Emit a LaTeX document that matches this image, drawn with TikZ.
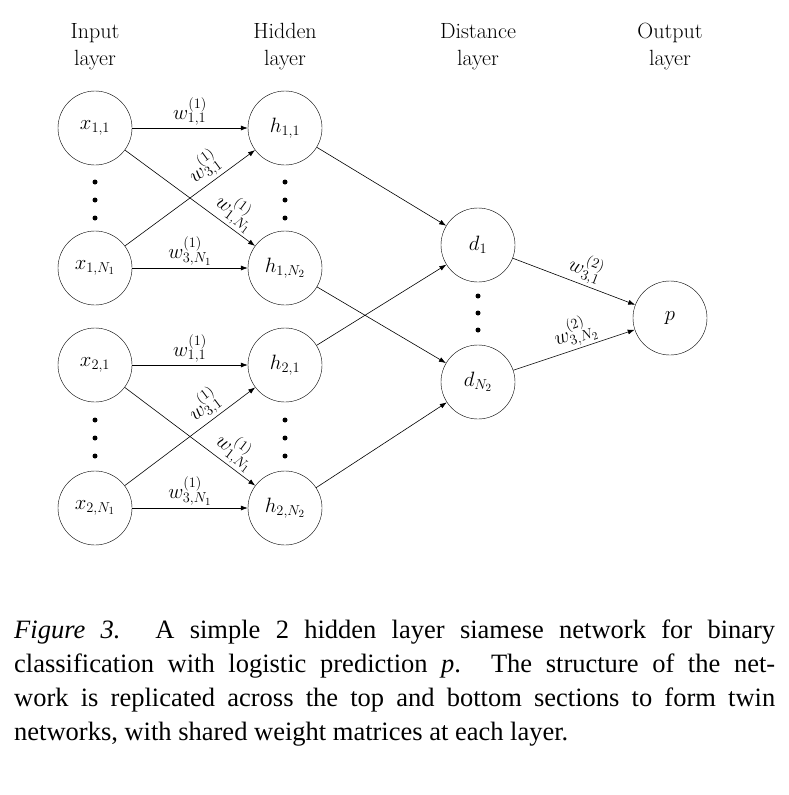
\documentclass[tikz,border=0pt]{standalone}
\usepackage{fontspec}
\newfontfamily\capfont{Liberation Serif}
\usetikzlibrary{arrows.meta}
\begin{document}
\begin{tikzpicture}[x=1pt,y=-1pt,
  neuron/.style={circle,draw,minimum size=74pt,inner sep=0pt,font=\fontsize{22}{26}\selectfont},
  conn/.style={draw,-{Latex[length=7pt,width=5pt]},line width=0.6pt},
  lab/.style={font=\fontsize{21}{24}\selectfont,inner sep=2pt},
  head/.style={align=center,font=\fontsize{22}{27}\selectfont},
  dot/.style={circle,fill,inner sep=0pt,minimum size=5pt}]
\useasboundingbox (0,0) rectangle (789,795);
\node[head] (hi) at (95,47) {Input\\layer};
\node[head] (hh) at (285,47) {Hidden\\layer};
\node[head] (hd) at (478,47) {Distance\\layer};
\node[head] (ho) at (670,47) {Output\\layer};
\node[neuron] (x11) at (95,128) {$x_{1,1}$};
\node[neuron] (x1n) at (95,268) {$x_{1,N_1}$};
\node[neuron] (x21) at (95,365) {$x_{2,1}$};
\node[neuron] (x2n) at (95,508) {$x_{2,N_1}$};
\node[neuron] (h11) at (285,128) {$h_{1,1}$};
\node[neuron] (h1n) at (285,268) {$h_{1,N_2}$};
\node[neuron] (h21) at (285,365) {$h_{2,1}$};
\node[neuron] (h2n) at (285,508) {$h_{2,N_2}$};
\node[neuron] (d1) at (478,245) {$d_1$};
\node[neuron] (dn) at (478,382) {$d_{N_2}$};
\node[neuron] (p) at (670,318) {$p$};
\foreach \x/\y [count=\i] in {95/182,95/200,95/218,285/182,285/200,285/218,95/420,95/438,95/456,285/420,285/438,285/456,478/296,478/313,478/330}
  \node[dot] (dt\i) at (\x,\y) {};
\foreach \a/\b/\c/\d in {x11/x1n/h11/h1n,x21/x2n/h21/h2n}{
  \path[conn] (\a) -- node[lab,above,pos=0.5] {$w^{(1)}_{1,1}$} (\c);
  \path[conn] (\b) -- node[lab,above,pos=0.5] {$w^{(1)}_{3,N_1}$} (\d);
  \path[conn] (\b) -- node[lab,above,sloped,pos=0.68] {$w^{(1)}_{3,1}$} (\c);
  \path[conn] (\a) -- node[lab,above,sloped,pos=0.78] {$w^{(1)}_{1,N_1}$} (\d);
}
\path[conn] (h11) -- (d1);
\path[conn] (h1n) -- (dn);
\path[conn] (h21) -- (d1);
\path[conn] (h2n) -- (dn);
\path[conn] (d1) -- node[lab,above,sloped,pos=0.55] {$w^{(2)}_{3,1}$} (p);
\path[conn] (dn) -- node[lab,above,sloped,pos=0.55] {$w^{(2)}_{3,N_2}$} (p);
\node[anchor=north west,text width=761pt,align=justify,inner sep=0pt,
  font=\capfont\fontsize{26.5}{34}\selectfont] (cap) at (14,620)
  {\textit{Figure 3.} A simple 2 hidden layer siamese network for binary\linebreak classification with logistic prediction \textit{p}. The structure of the net-\linebreak work is replicated across the top and bottom sections to form twin\linebreak networks, with shared weight matrices at each layer.};
\end{tikzpicture}
\end{document}
